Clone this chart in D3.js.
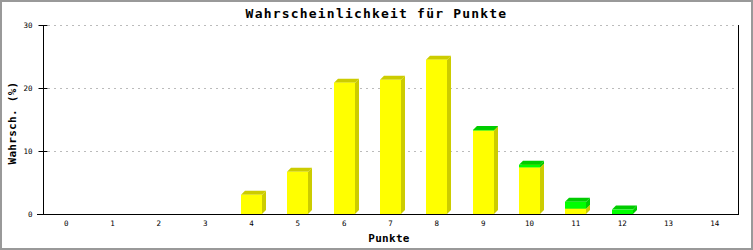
<!DOCTYPE html>
<html>
<head>
<meta charset="utf-8">
<script src="https://cdn.jsdelivr.net/npm/d3@7"></script>
<style>
    html, body { margin: 0; padding: 0; background: #fff; }
    svg { display: block; }
</style>
</head>
<body>
<div id="chart"></div>
<script>
const categories = ["0","1","2","3","4","5","6","7","8","9","10","11","12","13","14"];
const yellowValues = [0, 0, 0, 0, 3.05, 6.7, 20.85, 21.3, 24.5, 13.25, 7.4, 0.85, 0, 0, 0];
const greenValues = [0, 0, 0, 0, 0, 0, 0, 0, 0, 0.1, 0.4, 1.1, 0.7, 0, 0];
const yTicks = [0, 10, 20, 30];

const width = 753, height = 250;
const margin = { top: 25, right: 15, bottom: 36, left: 43 };
const depth = 4;

const svg = d3.select("#chart").append("svg")
    .attr("width", width)
    .attr("height", height);

// outer frame
svg.append("rect")
    .attr("x", 1).attr("y", 1)
    .attr("width", width - 2).attr("height", height - 2)
    .attr("fill", "#fff")
    .attr("stroke", "#999")
    .attr("stroke-width", 2);

const x = d3.scaleBand()
    .domain(categories)
    .range([margin.left, width - margin.right]);

const y = d3.scaleLinear()
    .domain([0, 30])
    .range([height - margin.bottom, margin.top]);

// dotted grid
svg.append("g")
    .selectAll("line")
    .data(yTicks.filter(t => t > 0))
    .join("line")
    .attr("x1", margin.left + 5)
    .attr("x2", width - margin.right - 3)
    .attr("y1", d => Math.round(y(d)) + 0.5)
    .attr("y2", d => Math.round(y(d)) + 0.5)
    .attr("stroke", "#bbb")
    .attr("stroke-dasharray", "2,4");

// stacked 3D bars
const series = [
    { values: yellowValues, front: "#ffff00", shade: "#cccc00" },
    { values: greenValues, front: "#00ff00", shade: "#00cc00" }
];
const barW = Math.round(x.bandwidth() * 0.455);
const bars = svg.append("g");

categories.forEach((c, i) => {
    let base = 0;
    const x0 = Math.round(x(c) + (x.bandwidth() - barW) / 2);
    const x1 = x0 + barW;
    series.forEach(s => {
        const v = s.values[i];
        if (v <= 0) return;
        const yb = y(base), yt = y(base + v);
        base += v;
        bars.append("path")
            .attr("d", `M${x1},${yb}L${x1 + depth},${yb - depth}L${x1 + depth},${yt - depth}L${x1},${yt}Z`)
            .attr("fill", s.shade);
        bars.append("path")
            .attr("d", `M${x0},${yt}L${x0 + depth},${yt - depth}L${x1 + depth},${yt - depth}L${x1},${yt}Z`)
            .attr("fill", s.shade);
        bars.append("rect")
            .attr("x", x0).attr("y", yt)
            .attr("width", barW).attr("height", yb - yt)
            .attr("fill", s.front);
    });
});

// axes
const yAxis = svg.append("g")
    .attr("transform", `translate(${margin.left + 0.5},0)`)
    .call(d3.axisLeft(y).tickValues(yTicks).tickSizeInner(5).tickSizeOuter(0).tickPadding(6));
yAxis.select(".domain").remove();
yAxis.selectAll(".tick line").attr("x2", 4).attr("x1", -5).attr("stroke", "#000");
yAxis.selectAll("text")
    .attr("fill", "#000")
    .attr("font-family", "DejaVu Sans Mono")
    .attr("font-size", "7.5px");

svg.append("line")
    .attr("x1", margin.left + 0.5).attr("x2", margin.left + 0.5)
    .attr("y1", margin.top).attr("y2", y(0))
    .attr("stroke", "#000");
svg.append("line")
    .attr("x1", width - margin.right + 0.5).attr("x2", width - margin.right + 0.5)
    .attr("y1", margin.top).attr("y2", y(0))
    .attr("stroke", "#000");

const xAxis = svg.append("g")
    .attr("transform", `translate(0,${Math.round(y(0)) + 0.5})`)
    .call(d3.axisBottom(x).tickSize(0).tickPadding(6));
xAxis.select(".domain").remove();
xAxis.selectAll("text")
    .attr("fill", "#000")
    .attr("font-family", "DejaVu Sans Mono")
    .attr("font-size", "7.5px");
svg.append("line")
    .attr("x1", margin.left - 6).attr("x2", width - margin.right + 1)
    .attr("y1", Math.round(y(0)) + 0.5).attr("y2", Math.round(y(0)) + 0.5)
    .attr("stroke", "#000");

// titles
svg.append("text")
    .attr("x", width / 2)
    .attr("y", 18)
    .attr("text-anchor", "middle")
    .attr("font-family", "DejaVu Sans Mono")
    .attr("font-weight", "bold")
    .attr("font-size", "13px")
    .attr("letter-spacing", "1.2px")
    .text("Wahrscheinlichkeit für Punkte");

svg.append("text")
    .attr("x", 389)
    .attr("y", 242)
    .attr("text-anchor", "middle")
    .attr("font-family", "DejaVu Sans Mono")
    .attr("font-weight", "bold")
    .attr("font-size", "11px")
    .attr("letter-spacing", "0.3px")
    .text("Punkte");

svg.append("text")
    .attr("transform", "translate(16,123) rotate(-90)")
    .attr("text-anchor", "middle")
    .attr("font-family", "DejaVu Sans Mono")
    .attr("font-weight", "bold")
    .attr("font-size", "11px")
    .attr("letter-spacing", "0.3px")
    .text("Wahrsch. (%)");
</script>
</body>
</html>
